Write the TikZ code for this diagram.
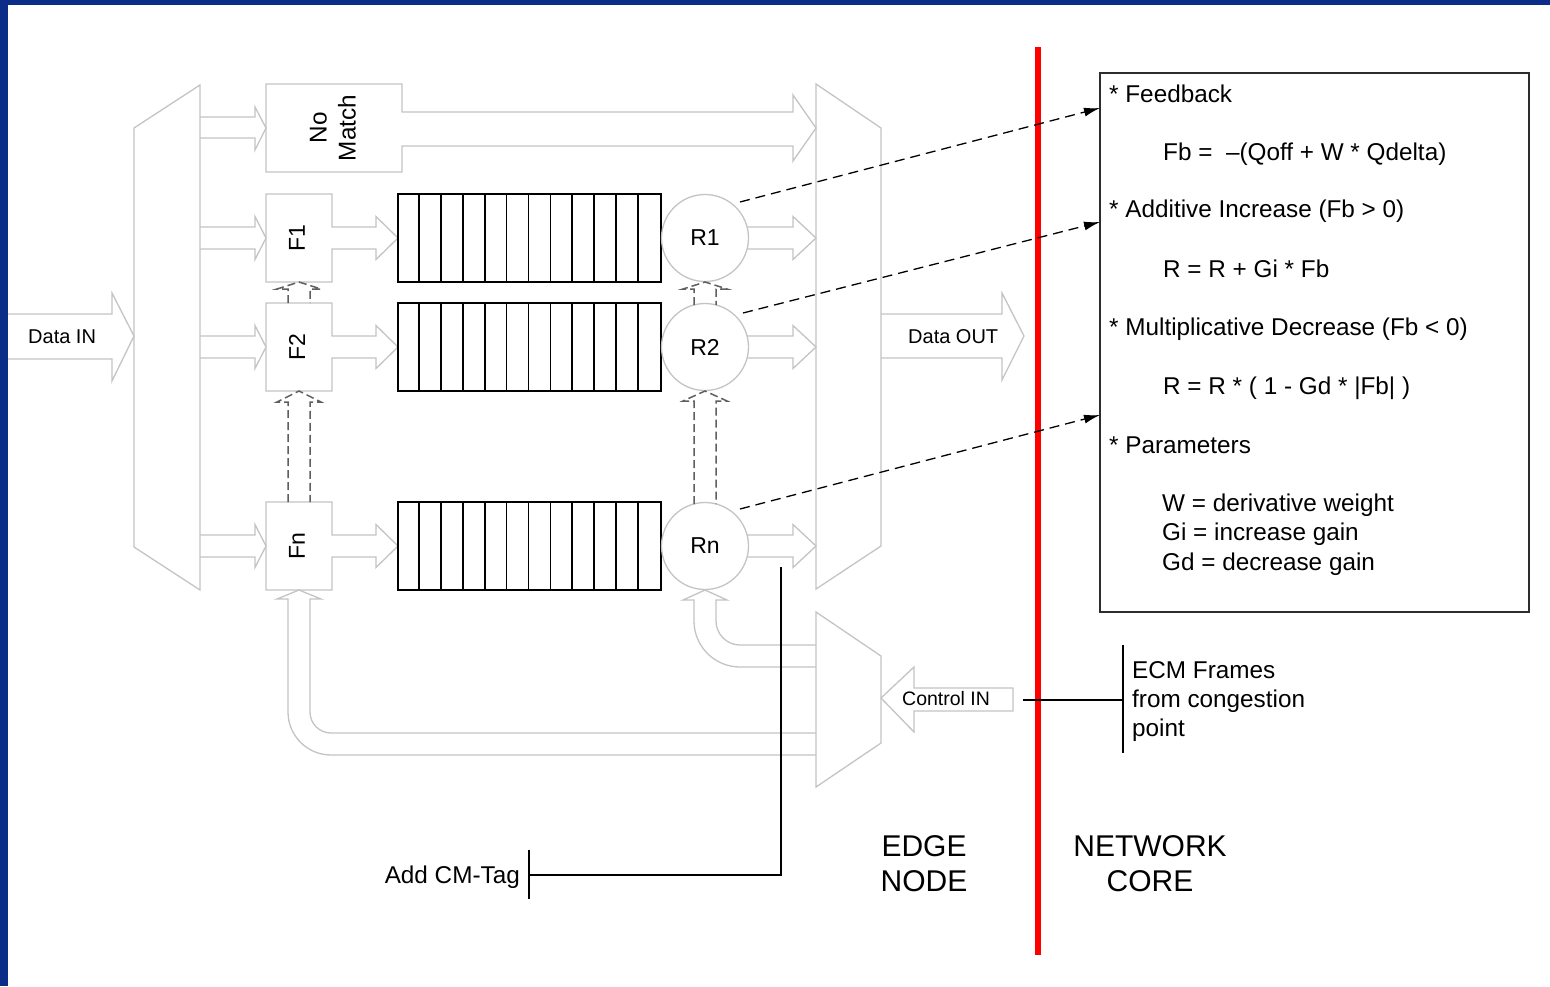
\documentclass[tikz,border=0pt]{standalone}
\usepackage{fontspec}
\setmainfont{Liberation Sans}
\usetikzlibrary{arrows.meta,calc}
\definecolor{slideblue}{RGB}{11,45,135}
\definecolor{lgray}{RGB}{196,196,196}
\definecolor{dgray}{RGB}{95,95,95}
\definecolor{boxgray}{RGB}{45,45,45}
\begin{document}
\begin{tikzpicture}[x=1pt,y=-1pt,
  outl/.style={draw=lgray, line width=1.3pt, line join=miter},
  vdash/.style={draw=dgray, line width=1.5pt, dash pattern=on 8pt off 4pt},
  fbk/.style={draw=black, line width=1.3pt, dash pattern=on 10pt off 6pt, -{Latex[length=16pt,width=9pt]}},
  blk/.style={draw=black, line width=1.3pt},
  qbox/.style={draw=black, line width=2pt, minimum width=263pt, minimum height=88pt, inner sep=0pt},
  qline/.style={draw=black, line width=1.8pt},
  rnode/.style={circle, draw=lgray, line width=1.3pt, minimum size=87pt, inner sep=0pt, font=\fontsize{23}{27}\selectfont},
  flab/.style={inner sep=0pt, rotate=90, font=\fontsize{23}{27}\selectfont},
  lab/.style={inner sep=0pt, font=\fontsize{24.3}{29}\selectfont},
  small/.style={inner sep=0pt, font=\fontsize{20}{24}\selectfont},
  big/.style={inner sep=0pt, align=center, font=\fontsize{30}{35}\selectfont},
]
\useasboundingbox (0,0) rectangle (1550,986);
\fill[white] (0,0) rectangle (1550,986);
\fill[slideblue] (0,0) rectangle (1550,5);
\fill[slideblue] (0,0) rectangle (8,986);

% ---- left demux and Data IN
\draw[outl] (134,128) -- (200,85) -- (200,590) -- (134,547) -- cycle;
\draw[outl] (8,314) -- (112,314) -- (112,293) -- (134,336) -- (112,381) -- (112,359) -- (8,359);
\node[small, anchor=base west] (din) at (28,343) {Data IN};

% ---- No Match
\draw[outl] (200,117) -- (255,117) -- (255,107) -- (266,128) -- (255,150) -- (255,138) -- (200,138);
\draw[outl] (266,84) -- (402,84) -- (402,112) -- (793,112) -- (793,95) -- (816,128) -- (793,161) -- (793,146) -- (402,146) -- (402,172) -- (266,172) -- cycle;
\node[lab, rotate=90, align=center] (nomatch) at (333,128) {No\\Match};

% ---- rows
\foreach \cy/\nm/\rn/\qn in {238/F1/R1/q1, 347/F2/R2/q2, 546/Fn/Rn/qn}{
  \draw[outl] (200,{\cy-11}) -- (255,{\cy-11}) -- (255,{\cy-21.5}) -- (266,\cy) -- (255,{\cy+21.5}) -- (255,{\cy+11}) -- (200,{\cy+11});
  \draw[outl] (266,{\cy-44}) -- (332,{\cy-44}) -- (332,{\cy-11}) -- (376,{\cy-11}) -- (376,{\cy-21.5}) -- (398,\cy) -- (376,{\cy+21.5}) -- (376,{\cy+11}) -- (332,{\cy+11}) -- (332,{\cy+44}) -- (266,{\cy+44}) -- cycle;
  \node[flab] (\nm) at (297,\cy) {\nm};
  \node[qbox] (\qn) at (529.5,\cy) {};
  \foreach \i in {1,...,11}{
    \draw[qline] ([xshift=\i*21.9167pt]\qn.north west) -- ([xshift=\i*21.9167pt]\qn.south west);
  }
  \node[rnode] (\rn) at (705,\cy) {\rn};
  \draw[outl] (747,{\cy-11}) -- (793,{\cy-11}) -- (793,{\cy-21.5}) -- (816,\cy) -- (793,{\cy+21.5}) -- (793,{\cy+11}) -- (747,{\cy+11});
}

% ---- dashed double arrows between F boxes and R circles
\draw[vdash] (288,303) -- (288,289) -- (277,289) -- (299,282) -- (321,289) -- (310,289) -- (310,303);
\draw[vdash] (288,502) -- (288,402) -- (277,402) -- (299,391) -- (321,402) -- (310,402) -- (310,502);
\draw[vdash] (694,305) -- (694,289) -- (683,289) -- (705,282) -- (727,289) -- (716,289) -- (716,305);
\draw[vdash] (694,504) -- (694,401) -- (683,401) -- (705,391) -- (727,401) -- (716,401) -- (716,504);

% ---- right mux and Data OUT
\draw[outl] (816,84) -- (881,128) -- (881,546) -- (816,589) -- cycle;
\draw[outl] (881,314) -- (1002,314) -- (1002,293) -- (1024,336) -- (1002,380) -- (1002,358) -- (881,358);
\node[small, anchor=base west] (dout) at (908,343) {Data OUT};

% ---- control demux, Control IN
\draw[outl] (816,612) -- (881,656) -- (881,743) -- (816,787) -- cycle;
\draw[outl] (881,698) -- (914,667) -- (914,688) -- (1013,688) -- (1013,711) -- (914,711) -- (914,732) -- cycle;
\node[inner sep=0pt, anchor=base west, font=\fontsize{19.5}{23}\selectfont] (cin) at (902,705) {Control IN};

% ---- feedback arrows to Rn and Fn
\draw[outl] (816,667) -- (740,667) .. controls (714.6,667) and (694,646.4) .. (694,621) -- (694,600) -- (683,600) -- (705,590) -- (727,600) -- (716,600) -- (716,621) .. controls (716,634.2) and (726.8,645) .. (740,645) -- (816,645);
\draw[outl] (816,755) -- (331,755) .. controls (307.3,755) and (288,735.7) .. (288,712) -- (288,599) -- (277,599) -- (299,590) -- (321,599) -- (310,599) -- (310,712) .. controls (310,723.6) and (319.4,733) .. (331,733) -- (816,733);

% ---- red boundary
\draw[red, line width=5.5pt] (1038,47) -- (1038,955);

% ---- algorithm box
\node[draw=boxgray, line width=2pt, minimum width=429pt, minimum height=539pt, inner sep=0pt] (box) at (1314.5,342.5) {};
\coordinate (fa) at (1100,108);
\coordinate (fb) at (1100,222);
\coordinate (fc) at (1100,415);
\draw[fbk] ($(R1)+(35,-36)$) -- (fa);
\draw[fbk] ($(R2)+(38,-34)$) -- (fb);
\draw[fbk] ($(Rn)+(35,-37)$) -- (fc);

\node[lab, anchor=base west] (t1) at (1109,102) {* Feedback};
\node[lab, anchor=base west] (t2) at (1163,160) {Fb =\ \ –(Qoff + W * Qdelta)};
\node[lab, anchor=base west] (t3) at (1109,217) {* Additive Increase (Fb > 0)};
\node[lab, anchor=base west] (t4) at (1163,277) {R = R + Gi * Fb};
\node[lab, anchor=base west] (t5) at (1109,335) {* Multiplicative Decrease (Fb < 0)};
\node[lab, anchor=base west] (t6) at (1163,394) {R = R * ( 1 - Gd * |Fb| )};
\node[lab, anchor=base west] (t7) at (1109,453) {* Parameters};
\node[lab, anchor=base west] (t8) at (1162,511) {W = derivative weight};
\node[lab, anchor=base west] (t9) at (1162,540) {Gi = increase gain};
\node[lab, anchor=base west] (t10) at (1162,570) {Gd = decrease gain};

% ---- ECM frames
\coordinate (ctrlend) at (1023,700);
\coordinate (ecmbar) at (1123,700);
\draw[blk] (ctrlend) -- (ecmbar);
\draw[blk] (1123,645) -- (1123,753);
\node[lab, anchor=base west] (e1) at (1132,678) {ECM Frames};
\node[lab, anchor=base west] (e2) at (1132,707) {from congestion};
\node[lab, anchor=base west] (e3) at (1132,736) {point};

% ---- Add CM-Tag
\coordinate (tagtop) at (781,567);
\coordinate (tagbar) at (529,875);
\draw[blk] (tagtop) |- (tagbar);
\draw[blk] (529,850) -- (529,899);
\node[lab, anchor=base east] (tag) at (520,883) {Add CM-Tag};

% ---- region labels
\node[big, anchor=base] (edge1) at (924,856) {EDGE};
\node[big, anchor=base] (edge2) at (924,891) {NODE};
\node[big, anchor=base] (core1) at (1150,856) {NETWORK};
\node[big, anchor=base] (core2) at (1150,891) {CORE};
\end{tikzpicture}
\end{document}
